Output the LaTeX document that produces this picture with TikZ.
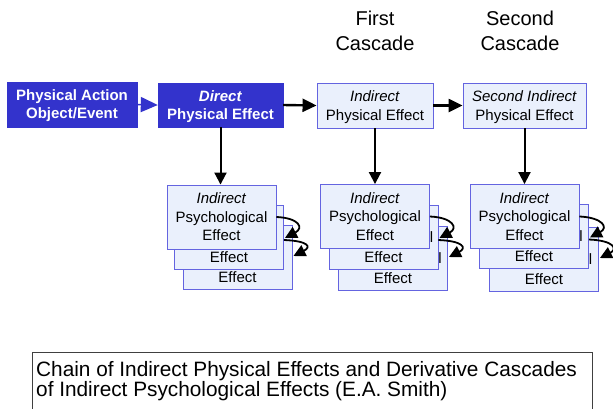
\documentclass[tikz,border=0pt]{standalone}
\usepackage{fontspec}
\setmainfont{Liberation Sans}
\usetikzlibrary{arrows.meta,calc}
\definecolor{dblue}{RGB}{51,51,204}
\definecolor{lfill}{RGB}{234,240,252}
\definecolor{lborder}{RGB}{100,100,224}
\definecolor{capborder}{RGB}{64,64,64}
\begin{document}
\begin{tikzpicture}[x=1pt,y=-1pt,
  bluebox/.style={draw=dblue,fill=dblue,text=white,font=\fontsize{15}{18}\selectfont\bfseries,
    align=center,inner sep=0pt,text depth=-1pt},
  lightbox/.style={draw=lborder,line width=0.9pt,fill=lfill,font=\fontsize{15}{18.5}\selectfont,
    align=center,inner sep=0pt},
  topbox/.style={lightbox,text depth=-1pt},
  psybox/.style={lightbox,minimum width=109pt,minimum height=64pt,text depth=-5pt},
  efftext/.style={font=\fontsize{15}{18}\selectfont,inner sep=0pt},
  frag/.style={font=\fontsize{15}{18}\selectfont,inner sep=0pt,anchor=west},
  thickarrow/.style={line width=2.4pt,-{Triangle[length=14pt,width=13pt]}},
  downarrow/.style={line width=2pt,-{Triangle[length=12pt,width=12pt]}},
  curvearrow/.style={line width=1.8pt,-{Triangle[length=12pt,width=12pt]}},
  titletext/.style={font=\fontsize{20}{25}\selectfont,align=center,inner sep=0pt}
]
\clip (0,0) rectangle (613,408);
\useasboundingbox (0,0) rectangle (613,408);
\fill[white] (0,0) rectangle (613,408);

% titles
\node[titletext] (t1) at (375,30.5) {First\\Cascade};
\node[titletext] (t2) at (520,30.5) {Second\\Cascade};

% top row
\node[bluebox,minimum width=130pt,minimum height=45pt] (pa) at (72,104.5) {Physical Action\\Object/Event};
\node[bluebox,minimum width=125pt,minimum height=44pt] (direct) at (220.5,105) {\textit{Direct}\\Physical Effect};
\node[topbox,minimum width=116pt,minimum height=45pt] (ind1) at (375,105.5) {\textit{Indirect}\\Physical Effect};
\node[topbox,minimum width=123pt,minimum height=45pt] (ind2) at (524.5,105.5) {\textit{Second Indirect}\\Physical Effect};

\draw[dblue,line width=1.5pt,-{Triangle[length=17pt,width=15pt]}] (pa.east) -- (direct.west);
\draw[thickarrow] (direct.east) -- (ind1.west);
\draw[thickarrow] (ind1.east) -- (ind2.west);

% stacks
\foreach \n/\cx/\cy/\ax/\ay/\bx/\by/\fr in {a/221.5/217/229/237/237.5/257/0, b/375/216.5/383.5/237/393/258/1, c/524.5/216.5/534/236.5/544/259/1}{
  \node[psybox] (\n3) at (\bx,\by) {};
  \node[efftext] (\n3t) at ($(\n3.center)+(0,20)$) {Effect};
  \node[psybox] (\n2) at (\ax,\ay) {};
  \node[efftext] (\n2t) at ($(\n2.center)+(0,20)$) {Effect};
  \ifnum\fr=1
    \node[frag] (\n3l) at ($(\n2.east |- \n3.center)+(-0.3,0)$) {l};
  \fi
  \node[psybox] (\n1) at (\cx,\cy) {\textit{Indirect}\\Psychological\\Effect};
  \ifnum\fr=1
    \node[frag] (\n2l) at ($(\n1.east |- \n2.center)+(-0.3,0)$) {l};
  \fi
  \draw[curvearrow] (\n1.east) .. controls ($(\n1.east)+(23,1)$) and ($(\n2.east)+(20,-9)$) .. ($(\n2.east)+(1,1)$);
  \draw[curvearrow] ($(\n2.east)+(0,3)$) .. controls ($(\n2.east)+(25,4)$) and ($(\n3.east)+(19,-10)$) .. ($(\n3.east)+(1,-1)$);
}

\draw[downarrow] (direct.south) -- (direct.south |- a1.north);
\draw[downarrow] (ind1.south) -- (ind1.south |- b1.north);
\draw[downarrow] (ind2.south) -- (ind2.south |- c1.north);

% caption
\draw[capborder,line width=1pt] (32,352) rectangle (592,420);
\node[font=\fontsize{20.8}{20}\selectfont,align=left,anchor=north west,inner sep=0pt] (cap) at (36,361.5)
  {Chain of Indirect Physical Effects and Derivative Cascades\\of Indirect Psychological Effects (E.A. Smith)};
\end{tikzpicture}
\end{document}
